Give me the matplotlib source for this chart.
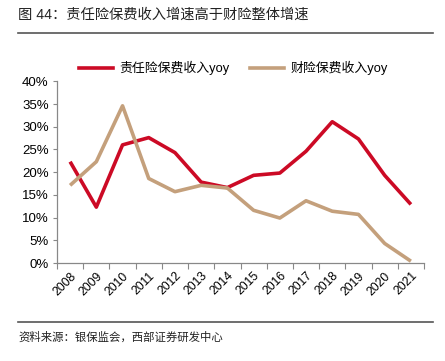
import matplotlib
matplotlib.use("Agg")
import matplotlib.pyplot as plt
from matplotlib.ticker import FuncFormatter, MultipleLocator
from matplotlib.lines import Line2D

plt.rcParams['font.family'] = ['Liberation Sans', 'Noto Sans CJK SC', 'DejaVu Sans']

years = ['2008', '2009', '2010', '2011', '2012', '2013', '2014',
         '2015', '2016', '2017', '2018', '2019', '2020', '2021']
liability_yoy = [22.3, 12.3, 26.0, 27.6, 24.3, 17.8, 16.6,
                 19.3, 19.8, 24.6, 31.1, 27.3, 19.3, 12.9]
property_yoy = [17.1, 22.3, 34.6, 18.6, 15.7, 17.1, 16.5,
                11.6, 9.9, 13.7, 11.4, 10.7, 4.3, 0.4]
series_names = ['责任险保费收入yoy', '财险保费收入yoy']
title = '图 44：责任险保费收入增速高于财险整体增速'
source = '资料来源：银保监会，西部证券研发中心'

W, H = 445, 361
fig = plt.figure(figsize=(W / 100, H / 100), dpi=100)
ax = fig.add_axes([57 / W, 1 - 263 / H, (424 - 57) / W, (263 - 81.3) / H])

red = '#CC0A25'
tan = '#C4A07C'
x = list(range(len(years)))
ax.plot(x, liability_yoy, color=red, lw=2.6, solid_capstyle='butt')
ax.plot(x, property_yoy, color=tan, lw=2.6, solid_capstyle='butt')

ax.set_xlim(-0.5, len(years) - 0.5)
ax.set_ylim(0, 40)
ax.yaxis.set_major_locator(MultipleLocator(5))
ax.yaxis.set_major_formatter(FuncFormatter(lambda v, p: f'{v:.0f}%'))
ax.set_xticks(x)
ax.set_xticklabels(years, rotation=45, ha='right', rotation_mode='anchor', fontsize=8.8)
ax.set_xticks([i + 0.5 for i in range(-1, len(years))], minor=True)
ax.tick_params(axis='x', which='major', length=0, pad=5)
ax.tick_params(axis='x', which='minor', length=4, color='#888888', width=0.8)
ax.tick_params(axis='y', length=3, color='#888888', width=0.8, labelsize=9.5, pad=3)
for s in ['top', 'right']:
    ax.spines[s].set_visible(False)
for s in ['left', 'bottom']:
    ax.spines[s].set_color('#888888')
    ax.spines[s].set_linewidth(0.9)

# legend
handles = [Line2D([], [], color=red, lw=2.6), Line2D([], [], color=tan, lw=2.6)]
fig.legend(handles, series_names, loc='center', bbox_to_anchor=(0.525, 1 - 68 / H),
           ncol=2, frameon=False, fontsize=9.3, handlelength=2.6, columnspacing=1.6,
           handletextpad=0.5)

fig.text(18 / W, 1 - 15 / H, title, fontsize=10.3, va='center', ha='left', color='#222222')
fig.add_artist(Line2D([18 / W, 433 / W], [1 - 33 / H, 1 - 33 / H], color='#555555', lw=1.2))
fig.add_artist(Line2D([18 / W, 433 / W], [1 - 322 / H, 1 - 322 / H], color='#555555', lw=1.2))
fig.text(18 / W, 1 - 337 / H, source, fontsize=8.2, va='center', ha='left', color='#222222')

fig.savefig('out.png', dpi=100)
